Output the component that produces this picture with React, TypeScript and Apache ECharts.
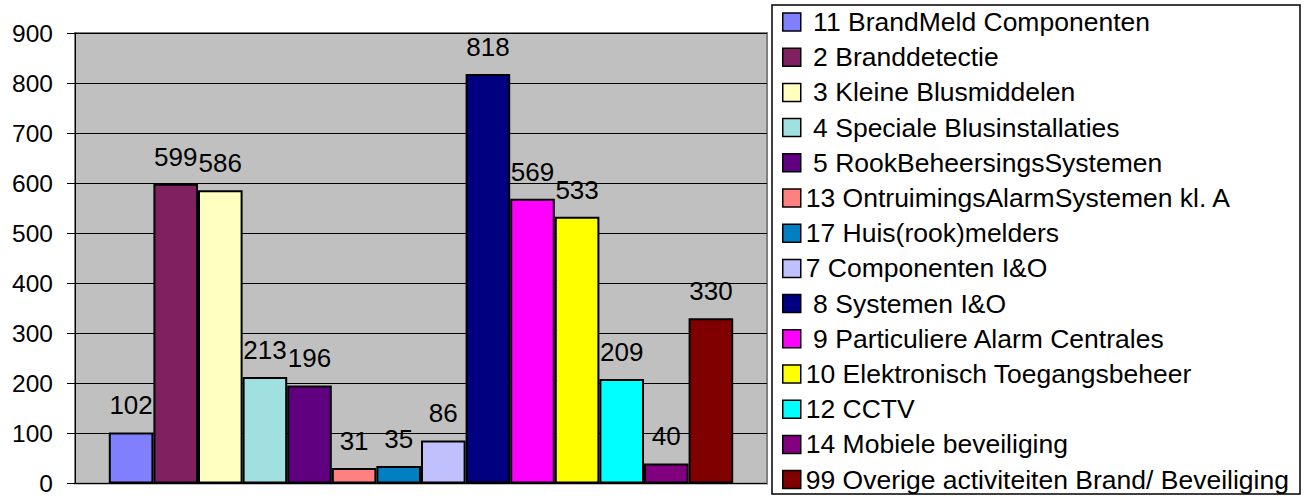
import React, { useEffect, useRef } from "react";
import * as echarts from "echarts";

const legendLabels = [
  " 11 BrandMeld Componenten",
  " 2 Branddetectie",
  " 3 Kleine Blusmiddelen",
  " 4 Speciale Blusinstallaties",
  " 5 RookBeheersingsSystemen",
  "13 OntruimingsAlarmSystemen kl. A",
  "17 Huis(rook)melders",
  "7 Componenten I&O",
  " 8 Systemen I&O",
  " 9 Particuliere Alarm Centrales",
  "10 Elektronisch Toegangsbeheer",
  "12 CCTV",
  "14 Mobiele beveiliging",
  "99 Overige activiteiten Brand/ Beveiliging",
];
const values = [102, 599, 586, 213, 196, 31, 35, 86, 818, 569, 533, 209, 40, 330];
const colors = [
  "#8080FF", "#802060", "#FFFFC0", "#A0E0E0", "#600080", "#FF8080", "#0080C0",
  "#C0C0FF", "#000080", "#FF00FF", "#FFFF00", "#00FFFF", "#800080", "#800000",
];
const categories = [""];
const yMin = 0;
const yMax = 900;
const yInterval = 100;

const FONT = "'Liberation Sans', Arial, sans-serif";

export default function App() {
  const ref = useRef<HTMLDivElement>(null);
  useEffect(() => {
    if (!ref.current) return;
    const chart = echarts.init(ref.current, null, { renderer: "svg" });
    const series = values.map((v, i) => ({
      type: "bar",
      name: legendLabels[i].replace(/^ /, "\u00A0"),
      data: [v],
      barWidth: 44.6,
      barGap: "0%",
      itemStyle: { color: colors[i], borderColor: "#000", borderWidth: 2 },
      label: {
        show: true,
        position: "top",
        distance: 14,
        fontSize: 26,
        fontFamily: FONT,
        color: "#000",
      },
    }));
    chart.setOption({
      animation: false,
      backgroundColor: "#fff",
      textStyle: { fontFamily: FONT },
      grid: {
        left: 75,
        top: 33,
        right: 542,
        bottom: 11,
        show: true,
        backgroundColor: "#C0C0C0",
        borderColor: "#808080",
        borderWidth: 2,
      },
      graphic: [
        {
          type: "rect",
          shape: { x: 772, y: 5, width: 528, height: 489 },
          style: { fill: "#fff", stroke: "#000", lineWidth: 1.5 },
          z: 0,
        },
      ],
      legend: {
        orient: "vertical",
        left: 782,
        top: 8.5,
        height: 485,
        itemWidth: 18,
        itemHeight: 18,
        itemGap: 8.2,
        padding: 0,
        icon: "rect",
        itemStyle: { borderColor: "#000", borderWidth: 1.5 },
        textStyle: { fontSize: 26.5, fontFamily: FONT, color: "#000", lineHeight: 25 },
        data: values.map((_, i) => legendLabels[i].replace(/^ /, "\u00A0")),
      },
      xAxis: {
        type: "category",
        data: categories,
        axisLine: { show: false },
        axisTick: { show: false },
        axisLabel: { show: false },
        splitLine: { show: false },
      },
      yAxis: {
        type: "value",
        min: yMin,
        max: yMax,
        interval: yInterval,
        axisLine: { show: true, lineStyle: { color: "#000", width: 1 } },
        axisTick: { show: true, inside: false, length: 8, lineStyle: { color: "#000" } },
        axisLabel: { fontSize: 24.5, fontFamily: FONT, color: "#000", margin: 22 },
        splitLine: { show: true, lineStyle: { color: "#000", width: 1 } },
      },
      series,
    });
    return () => chart.dispose();
  }, []);
  return (
    <div
      ref={ref}
      style={{ position: "fixed", left: 0, top: 0, width: 1309, height: 496 }}
    />
  );
}
